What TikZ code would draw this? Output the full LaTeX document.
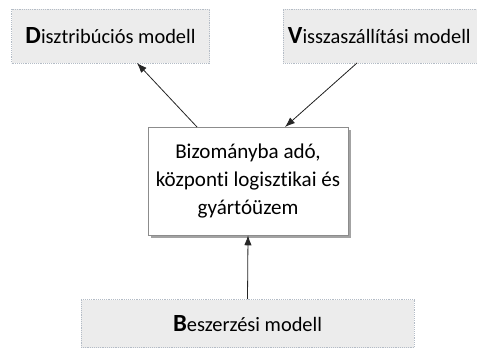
\documentclass[tikz,border=0pt]{standalone}
\usepackage{fontspec}
\setmainfont[Ligatures=NoCommon]{Carlito}
\usetikzlibrary{arrows.meta,shadows}
\definecolor{boxfill}{HTML}{ECECEC}
\definecolor{boxline}{HTML}{B4BCC6}
\definecolor{midline}{HTML}{8C8C8C}
\begin{document}
\begin{tikzpicture}[x=0.75pt,y=-0.75pt,
  model/.style={draw=boxline, densely dotted, fill=boxfill, inner sep=0pt,
    font=\fontsize{15.3pt}{17pt}\selectfont, text=black},
  center/.style={draw=midline, fill=white, inner sep=0pt, minimum width=150pt, minimum height=81pt,
    align=center, font=\fontsize{15.8pt}{21pt}\selectfont,
    drop shadow={shadow xshift=2.2pt, shadow yshift=-2.2pt, fill=black!45, opacity=0.8}},
  conn/.style={draw=black!85, line width=0.6pt, -{Latex[length=7.5pt,width=5.5pt]}}]
\useasboundingbox (0,0) rectangle (477,349);
\fill[white] (0,0) rectangle (477,349);
\newcommand{\capl}[1]{{\fontsize{18.5pt}{18pt}\selectfont\bfseries #1}}
\node[model, minimum width=148.5pt, minimum height=40.5pt] (dist) at (110.5,36) {\capl{D}isztribúciós modell};
\node[model, anchor=west, inner xsep=3.5pt, minimum height=40.5pt] (vissza) at (283,36) {\makebox[150pt][l]{\capl{V}isszaszállítási modell}};
\node[model, minimum width=249.75pt, minimum height=36pt] (besz) at (247.5,323.5) {\capl{B}eszerzési modell};
\node[center] (kozp) at (248,181) {Bizományba adó,\\központi logisztikai és\\gyártóüzem};
\coordinate (k1) at (197,127);
\coordinate (k2) at (285,127);
\coordinate (d1) at (137,63);
\coordinate (v1) at (357,63);
\draw[conn] (k1) -- (d1);
\draw[conn] (v1) -- (k2);
\draw[conn] (besz.north) -- (kozp.south);
\end{tikzpicture}
\end{document}
